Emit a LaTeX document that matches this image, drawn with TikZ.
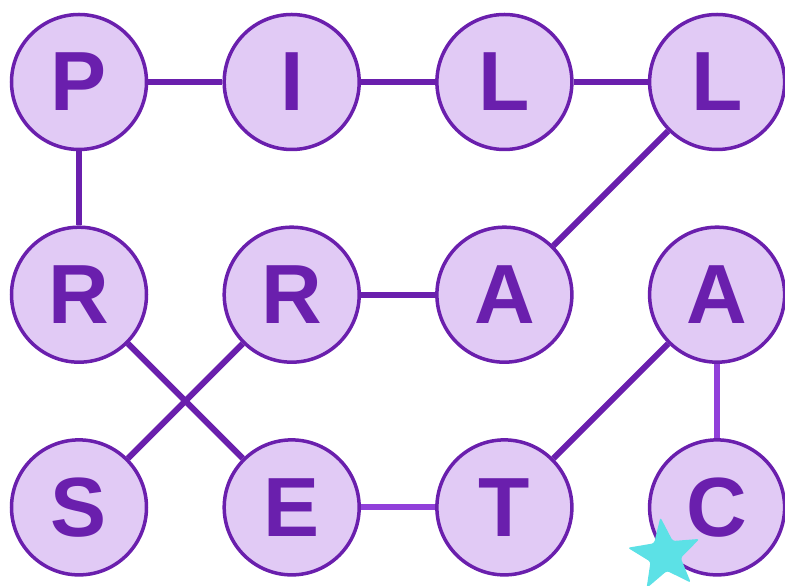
\documentclass[tikz,border=0pt]{standalone}
\usepackage{fontspec}
\setmainfont{Liberation Sans}
\usetikzlibrary{graphs, positioning}

\definecolor{ink}{HTML}{6A1FAD}
\definecolor{disc}{HTML}{E1CAF5}
\definecolor{soft}{HTML}{9140DA}
\definecolor{spark}{HTML}{5CE1E6}

\tikzset{
  letter/.style={circle, draw=ink, fill=disc, line width=3.5pt, minimum size=135pt,
    inner sep=0pt, text=ink, font=\fontsize{84}{84}\selectfont\bfseries},
  softedge/.style={draw=soft},
}

\begin{document}
\begin{tikzpicture}[x=1pt, y=1pt, node distance=212.7pt, on grid]
    \useasboundingbox (0,0) rectangle (785,586);

    \node[letter]                   (p)  at (79,504) {P};
    \node[letter, right=of p]       (i)  {I};
    \node[letter, right=of i]       (l1) {L};
    \node[letter, right=of l1]      (l2) {L};
    \node[letter, below=of p]       (r1) {R};
    \node[letter, right=of r1]      (r2) {R};
    \node[letter, right=of r2]      (a1) {A};
    \node[letter, right=of a1]      (a2) {A};
    \node[letter, below=of r1]      (s)  {S};
    \node[letter, right=of s]       (e)  {E};
    \node[letter, right=of e]       (t)  {T};
    \node[letter, right=of t]       (c)  {C};

    \graph[edges={draw=ink, line width=6pt}]{
    (p) -- (i) -- (l1) -- (l2) -- (a1) -- (r2) -- (s);
    (p) -- (r1) -- (e);
    (e) --[softedge] (t) -- (a2) --[softedge] (c);
    };

    % star
    \fill[spark, rounded corners=2.5pt]
      plot[samples at={0,...,9}, variable=\k]
      ({665+(mod(\k,2)==0 ? 38 : 16)*cos(97+36*\k)}, {31+(mod(\k,2)==0 ? 38 : 16)*sin(97+36*\k)}) -- cycle;
\end{tikzpicture}
\end{document}
